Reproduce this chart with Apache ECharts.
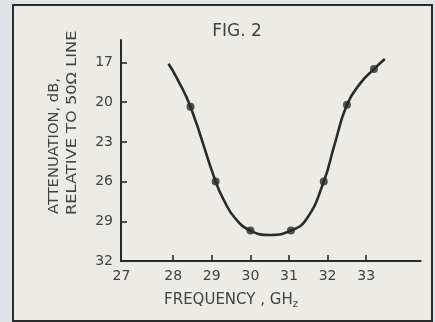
<!DOCTYPE html>
<html><head><meta charset="utf-8">
<script src="https://cdn.jsdelivr.net/npm/echarts@6/dist/echarts.min.js"></script>
<style>html,body{margin:0;padding:0;background:#dfe3e5}#c{width:435px;height:322px}</style>
</head><body><div id="c"></div>
<script>
// Tick labels
const xLabelValues = [27, 28, 29, 30, 31, 32, 33];
const xTickValues = [28, 29, 30, 31, 32, 33];
const yLabelValues = [17, 20, 23, 26, 29, 32];
const yTickValues = [17, 20, 23, 26, 29];
// Measured points (frequency GHz, attenuation dB)
const pointFreq = [28.45, 29.1, 30.0, 31.05, 31.9, 32.5, 33.2];
const pointAtten = [20.35, 26.0, 29.7, 29.7, 26.0, 20.2, 17.5];
// Drawn curve
const curveFreq = [27.88, 28.1, 28.45, 29.1, 29.33, 29.6, 30.0, 30.52, 31.05, 31.45, 31.9, 32.17, 32.5, 32.85, 33.2, 33.48];
const curveAtten = [17.1, 18.2, 20.35, 26.0, 27.5, 28.75, 29.7, 30.03, 29.7, 28.85, 26.0, 23.3, 20.2, 18.56, 17.5, 16.74];

const FONT = '"DejaVu Sans"';
const INK = '#424242';
const LINE = '#2a2a2a';

const chart = echarts.init(document.getElementById('c'), null, {renderer: 'canvas'});
chart.setOption({
  animation: false,
  backgroundColor: '#dfe3e5',
  grid: {left: 121, right: 14.3, top: 40, bottom: 61, containLabel: false},
  xAxis: {
    type: 'value', min: 26.65, max: 34.41,
    splitLine: {show: false},
    axisLine: {show: true, lineStyle: {color: LINE, width: 2}},
    axisTick: {show: true, inside: true, length: 6, customValues: xTickValues, lineStyle: {color: LINE, width: 1.6}},
    axisLabel: {
      customValues: xLabelValues, margin: 8, fontFamily: FONT, fontSize: 14, color: INK,
      formatter: v => v === 27 ? '{o|27}' : String(v),
      rich: {o: {fontFamily: FONT, fontSize: 14, color: INK, padding: [0, 26, 0, 0]}}
    }
  },
  yAxis: {
    type: 'value', inverse: true, min: 15.3, max: 32,
    splitLine: {show: false},
    axisLine: {show: true, lineStyle: {color: LINE, width: 2}},
    axisTick: {show: true, inside: true, length: 6, customValues: yTickValues, lineStyle: {color: LINE, width: 1.6}},
    axisLabel: {customValues: yLabelValues, margin: 8, fontFamily: FONT, fontSize: 14, color: INK}
  },
  graphic: [
    {type: 'rect', z: -10, silent: true, shape: {x: 13, y: 5, width: 419, height: 316},
     style: {fill: '#ecebe6', stroke: '#2b2b2b', lineWidth: 2}},
    {type: 'text', x: 237, y: 32, silent: true,
     style: {text: 'FIG. 2', font: '17px ' + FONT, fill: INK, align: 'center', verticalAlign: 'middle', textAlign: 'center', textVerticalAlign: 'middle'}},
    {type: 'text', x: 54, y: 214, rotation: Math.PI / 2, scaleX: 1.05, silent: true,
     style: {text: 'ATTENUATION, dB,', font: '14px ' + FONT, fill: INK, align: 'left', verticalAlign: 'middle', textAlign: 'left', textVerticalAlign: 'middle'}},
    {type: 'text', x: 72, y: 215, rotation: Math.PI / 2, scaleX: 1.16, silent: true,
     style: {text: 'RELATIVE TO 50Ω LINE', font: '14px ' + FONT, fill: INK, align: 'left', verticalAlign: 'middle', textAlign: 'left', textVerticalAlign: 'middle'}},
    {type: 'text', x: 231, y: 300, silent: true,
     style: {text: '{a|FREQUENCY , GH}{s|z}', fill: INK, align: 'center', verticalAlign: 'middle', textAlign: 'center', textVerticalAlign: 'middle',
       rich: {a: {fontFamily: FONT, fontSize: 15, fill: INK, color: INK}, s: {fontFamily: FONT, fontSize: 10, fill: INK, color: INK, padding: [8, 0, 0, 0]}}}}
  ],
  series: [
    {type: 'line', data: curveFreq.map((f, i) => [f, curveAtten[i]]), smooth: 0.5, showSymbol: false,
     lineStyle: {color: LINE, width: 2.6}, z: 3},
    {type: 'scatter', data: pointFreq.map((f, i) => [f, pointAtten[i]]), symbol: 'circle', symbolSize: 8,
     itemStyle: {color: LINE}, z: 4}
  ]
});
</script>
</body></html>
